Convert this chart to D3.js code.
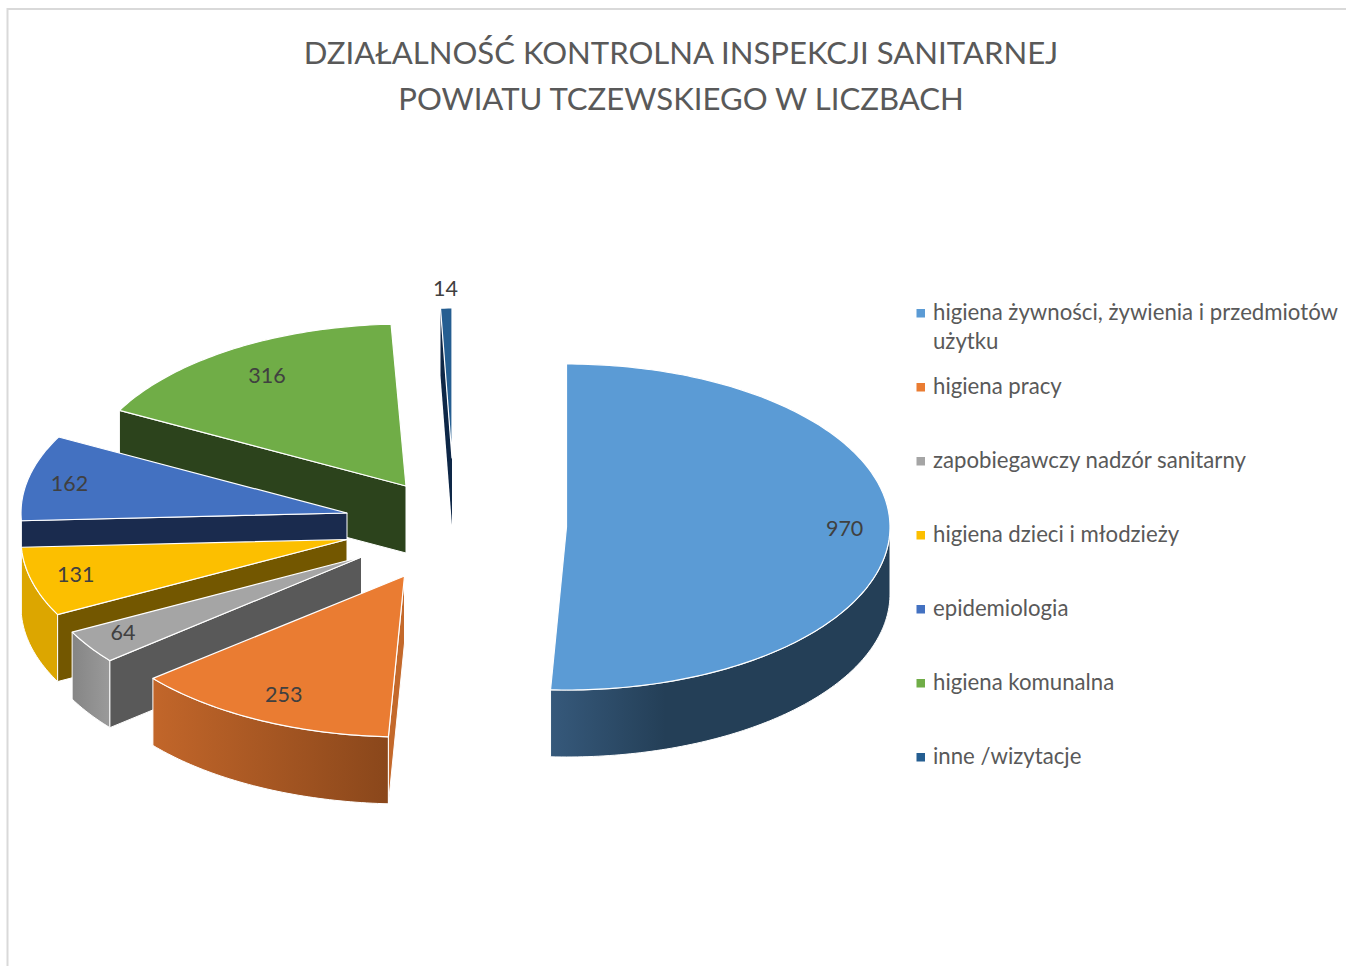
<!DOCTYPE html>
<html><head><meta charset="utf-8">
<script src="https://cdn.jsdelivr.net/npm/d3@7"></script>
<style>html,body{margin:0;background:#fff}svg{display:block}text{font-family:Lato,"Open Sans",sans-serif}</style>
</head><body><svg id="c" width="1346" height="966"></svg>
<script>
const categories=["higiena żywności, żywienia i przedmiotów użytku","higiena pracy","zapobiegawczy nadzór sanitarny","higiena dzieci i młodzieży","epidemiologia","higiena komunalna","inne /wizytacje"];
const values=[970,253,64,131,162,316,14];
const titleLines=["DZIAŁALNOŚĆ KONTROLNA INSPEKCJI SANITARNEJ","POWIATU TCZEWSKIEGO W LICZBACH"];
const topColors=["#5b9bd5","#ea7c32","#a5a5a5","#fcbf00","#4371c1","#70ad47","#255e91"];
const cutColors=[null,"#c4692b","#595959","#735700","#1a2b4e","#2c431c","#0e2747"];
const outerStops=[["#36597b","#243f57"],["#c2662a","#8a471b"],["#858585","#9a9a9a"],["#dca600","#dca600"],["#1a2b4e","#1a2b4e"],["#2c431c","#2c431c"],["#0e2747","#0e2747"]];
const apexX=[566.5,404.5,361.5,347,347,406,452];
const apexY=[527,576,557,539.5,513,486,458];
const radiusX=[323.5,326,326,326,326,324,250];
const radiusY=[163,161,163,163,163,162,150];
const labelFrac=[.86,.825,.877,.862,.872,.80,1.13];
const labelDy=[-2,0,-3,-2,1,-1,0];
const depth=67;

const svg=d3.select("#c");
const pie=d3.pie().sort(null).value(d=>d);
const arcs=pie(values);
const line=d3.line();
const defs=svg.append("defs");

// frame
svg.append("path").attr("d","M1346,9H7.5V966").attr("fill","none").attr("stroke","#d9d9d9").attr("stroke-width",2);

// title
svg.append("g").selectAll("text").data(titleLines).join("text")
 .attr("x",681).attr("y",(d,i)=>64+i*46).attr("text-anchor","middle")
 .attr("font-size",31.1).attr("fill","#595959").text(d=>d);

const pt=(i,a,dy=0)=>[apexX[i]+radiusX[i]*Math.sin(a),apexY[i]-radiusY[i]*Math.cos(a)+dy];
const sweep=(i,a0,a1,dy=0)=>{const n=Math.max(2,Math.ceil((a1-a0)*60));return d3.range(n+1).map(k=>pt(i,a0+(a1-a0)*k/n,dy));};
const rad=Math.PI/180;
const order=[6,5,4,3,2,1,0];
const g=svg.append("g");
order.forEach(i=>{
  const {startAngle:a0,endAngle:a1}=arcs[i];
  const s=g.append("g");
  const oa0=Math.max(a0,90*rad),oa1=Math.min(a1,270*rad);
  if(oa1>oa0){
    const top=sweep(i,oa0,oa1),bot=sweep(i,oa0,oa1,depth).reverse();
    const xs=top.map(p=>p[0]);
    const lo=d3.min(xs),hi=d3.max(xs);
    const grad=defs.append("linearGradient").attr("id","o"+i).attr("gradientUnits","userSpaceOnUse")
      .attr("x1",lo).attr("x2",i===0?lo+115:hi).attr("y1",0).attr("y2",0);
    grad.append("stop").attr("offset",0).attr("stop-color",outerStops[i][0]);
    grad.append("stop").attr("offset",1).attr("stop-color",outerStops[i][1]);
    s.append("path").attr("d",line(top.concat(bot))+"Z").attr("fill",`url(#o${i})`).attr("stroke","#fff").attr("stroke-width",1);
  }
  if(a0>=180*rad-1e-9&&cutColors[i]){
    const c=[apexX[i],apexY[i]],p=pt(i,a0);
    s.append("path").attr("d",line([c,p,[p[0],p[1]+depth],[c[0],c[1]+depth]])+"Z")
     .attr("fill",cutColors[i]).attr("stroke",i===6?"none":"#fff").attr("stroke-width",1);
  }
  const face=[[apexX[i],apexY[i]]].concat(sweep(i,a0,a1));
  s.append("path").attr("d",line(face)+"Z").attr("fill",topColors[i]).attr("stroke","#fff").attr("stroke-width",1.2).attr("stroke-linejoin","round");
});

// data labels
svg.append("g").selectAll("text").data(arcs).join("text")
 .attr("x",(d,i)=>apexX[i]+radiusX[i]*labelFrac[i]*Math.sin((d.startAngle+d.endAngle)/2))
 .attr("y",(d,i)=>apexY[i]-radiusY[i]*labelFrac[i]*Math.cos((d.startAngle+d.endAngle)/2)+labelDy[i])
 .attr("dy","0.35em").attr("text-anchor","middle").attr("font-size",21.5).attr("fill","#404040").text(d=>d.data);

// legend
const ly=d3.scalePoint().domain(categories).range([313,757]);
const lg=svg.append("g").selectAll("g").data(categories).join("g").attr("transform",d=>`translate(916,${ly(d)})`);
lg.append("rect").attr("x",0.5).attr("y",-4).attr("width",8.5).attr("height",8.5).attr("fill",(d,i)=>topColors[i]);
lg.each(function(d){
  const t=d3.select(this).append("text").attr("x",17).attr("y",6.5).attr("font-size",22.2).attr("fill","#595959");
  const parts=d.endsWith(" użytku")?[d.slice(0,-7),"użytku"]:[d];
  parts.forEach((p,k)=>t.append("tspan").attr("x",17).attr("dy",k?29:0).text(p));
});
</script></body></html>
